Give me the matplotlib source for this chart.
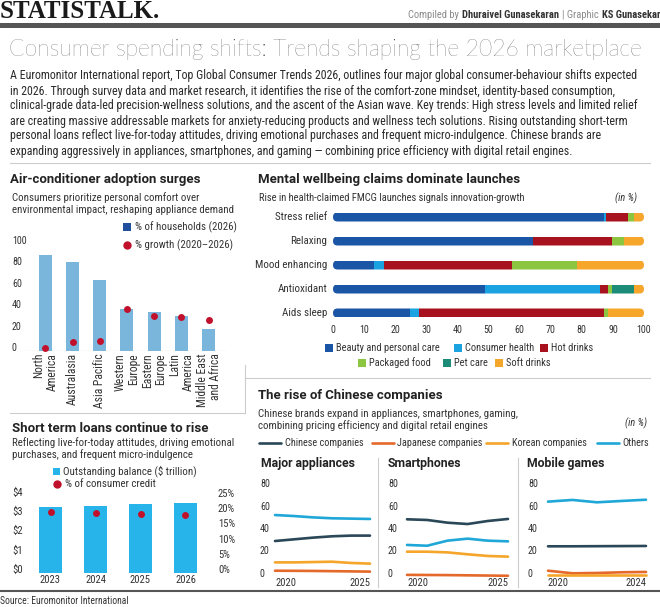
import matplotlib
matplotlib.use('Agg')
import matplotlib.pyplot as plt
import matplotlib.font_manager as fm
from matplotlib.patches import Rectangle, FancyBboxPatch
from matplotlib.lines import Line2D
from matplotlib.transforms import offset_copy
import numpy as np

W, H = 660, 607

# ------------------------------------------------------------------ data
ac_regions = ['North\nAmerica', 'Australasia', 'Asia Pacific', 'Western\nEurope',
              'Eastern\nEurope', 'Latin\nAmerica', 'Middle East\nand Africa']
ac_households = [90, 83, 66, 39, 36, 33, 21]
ac_growth = [3, 8, 9, 39, 33, 32, 29]
ac_ticks = [0, 20, 40, 60, 80, 100]

mw_claims = ['Stress relief', 'Relaxing', 'Mood enhancing', 'Antioxidant', 'Aids sleep']
mw_sectors = ['Beauty and personal care', 'Consumer health', 'Hot drinks',
              'Packaged food', 'Pet care', 'Soft drinks']
mw_beauty = [87.2, 64.2, 13.2, 48.9, 24.7]
mw_health = [0.5, 0.0, 3.1, 36.9, 2.9]
mw_hot = [7.0, 25.6, 41.4, 2.5, 59.5]
mw_food = [2.1, 3.8, 20.6, 1.3, 1.2]
mw_pet = [0.0, 0.0, 0.0, 7.3, 0.0]
mw_soft = [3.2, 6.4, 21.7, 3.1, 11.7]
mw_ticks = list(range(0, 101, 10))

loan_years = ['2023', '2024', '2025', '2026']
loan_balance = [3.42, 3.47, 3.56, 3.62]
loan_share = [20.0, 19.6, 19.5, 19.1]
loan_ticks_left = [0, 1, 2, 3, 4]
loan_ticks_right = [0, 5, 10, 15, 20, 25]

cn_series = ['Chinese companies', 'Japanese companies', 'Korean companies', 'Others']
appl_years = [2020, 2021, 2022, 2023, 2024, 2025]
appl_chinese = [31.1, 32.6, 34.1, 35.3, 35.9, 35.9]
appl_japanese = [4.7, 4.6, 4.5, 4.3, 4.1, 3.9]
appl_korean = [12.1, 12.1, 12.4, 12.7, 11.6, 11.0]
appl_others = [54.2, 53.3, 52.1, 51.3, 51.0, 50.7]
phone_years = [2020, 2021, 2022, 2023, 2024, 2025]
phone_chinese = [50.4, 49.8, 47.4, 46.2, 48.9, 50.7]
phone_japanese = [1.0, 0.9, 0.8, 0.6, 0.4, 0.2]
phone_korean = [21.6, 21.6, 21.0, 19.3, 17.8, 17.2]
phone_others = [27.6, 26.9, 31.4, 33.2, 31.4, 30.8]
game_years = [2020, 2021, 2022, 2023, 2024]
game_chinese = [26.4, 26.4, 26.5, 26.6, 26.7]
game_japanese = [4.7, 2.4, 2.7, 3.3, 3.6]
game_korean = [0.9, 0.9, 0.9, 0.9, 0.9]
game_others = [66.1, 67.6, 65.5, 66.7, 67.8]
cn_ticks = [0, 20, 40, 60, 80]

# ------------------------------------------------------------------ fonts
def pick(cands):
    for c in cands:
        try:
            fm.findfont(fm.FontProperties(family=c), fallback_to_default=False)
            return c
        except Exception:
            pass
    return 'DejaVu Sans'

NARROW = pick(['Liberation Sans Narrow', 'Roboto Condensed', 'Roboto'])
BOLD = pick(['Roboto', 'Liberation Sans'])
LIGHT = pick(['Lato', 'Open Sans', 'Roboto'])
SERIF = pick(['Liberation Serif', 'DejaVu Serif'])
K = 1.0 if NARROW != 'Roboto' else 0.86

# colours
C_TXT = '#222222'
C_SUB = '#333333'
C_AC = '#7ab6dc'
C_AC_LEG = '#1f4e9c'
C_RED = '#c0102b'
C_LOAN = '#27b4ea'
MW_COLORS = ['#1b55a6', '#1aa3e0', '#a8121e', '#8cc540', '#1c8b78', '#f6a62a']
CN_COLORS = ['#2a4858', '#e5692a', '#f5a52a', '#1fa7d8']

fig = plt.figure(figsize=(6.6, 6.07), dpi=100)
fig.patch.set_facecolor('white')


def fx(x):
    return x / W


def fy(y):
    return 1 - y / H


def T(x, y, s, size=8, **kw):
    kw.setdefault('ha', 'left')
    kw.setdefault('va', 'center')
    kw.setdefault('color', C_TXT)
    kw.setdefault('family', NARROW)
    if kw['family'] == NARROW:
        size = size * K
    return fig.text(fx(x), fy(y), s, fontsize=size, **kw)


def AX(x0, y0, x1, y1):
    ax = fig.add_axes([fx(x0), fy(y1), (x1 - x0) / W, (y1 - y0) / H])
    ax.patch.set_alpha(0)
    for sp in ax.spines.values():
        sp.set_visible(False)
    ax.set_xticks([])
    ax.set_yticks([])
    return ax


def HL(x0, x1, y, color='#cccccc', lw=0.8):
    fig.add_artist(Line2D([fx(x0), fx(x1)], [fy(y), fy(y)], color=color, lw=lw,
                          transform=fig.transFigure))


def VL(x, y0, y1, color='#cccccc', lw=0.8):
    fig.add_artist(Line2D([fx(x), fx(x)], [fy(y0), fy(y1)], color=color, lw=lw,
                          transform=fig.transFigure))


def SQ(x, y, color, s=8):
    fig.add_artist(Rectangle((fx(x), fy(y + s / 2)), s / W, s / H, color=color,
                             transform=fig.transFigure, lw=0))


def DOT(x, y, color, s=25):
    fig.add_artist(Line2D([fx(x)], [fy(y)], marker='o', ms=np.sqrt(s), color=color,
                          lw=0, transform=fig.transFigure))


TICK = 7.2 / K  # tick digits size (before K)
SUB = 7.8

# ------------------------------------------------------------------ header
T(0, 12, 'STATISTALK.', size=18, family=SERIF, weight='bold', color='#1a1a1a')
r = fig.canvas.get_renderer()
parts = [('Compiled by', 'normal', '#8a8a8a'), ('Dhuraivel Gunasekaran', 'bold', '#333333'),
         ('| Graphic', 'normal', '#8a8a8a'), ('KS Gunasekar', 'bold', '#333333')]
xr = 660
for s, w, c in reversed(parts):
    t = T(xr, 15, s, size=7.6, weight=w, color=c, ha='right')
    bb = t.get_window_extent(r)
    xr = bb.x0 - 3
fig.add_artist(Rectangle((0, fy(27.5)), 1, 4.5 / H, color='#555555', lw=0,
                         transform=fig.transFigure))

T(9, 50, 'Consumer spending shifts: Trends shaping the 2026 marketplace', size=16.5,
  family=LIGHT, weight='light', color='#3a3a3a')
para = [
    'A Euromonitor International report, Top Global Consumer Trends 2026, outlines four major global consumer-behaviour shifts expected',
    'in 2026. Through survey data and market research, it identifies the rise of the comfort-zone mindset, identity-based consumption,',
    'clinical-grade data-led precision-wellness solutions, and the ascent of the Asian wave. Key trends: High stress levels and limited relief',
    'are creating massive addressable markets for anxiety-reducing products and wellness tech solutions. Rising outstanding short-term',
    'personal loans reflect live-for-today attitudes, driving emotional purchases and frequent micro-indulgence. Chinese brands are',
    'expanding aggressively in appliances, smartphones, and gaming \u2014 combining price efficiency with digital retail engines.',
]
for i, line in enumerate(para):
    T(10, 76 + i * 15, line, size=8.6, color='#2a2a2a')

# separators
HL(10, 650, 163)
HL(245, 650, 378)
HL(10, 245, 413)
VL(245, 365, 413)
HL(0, 660, 591, color='#555555', lw=1.5)
T(0, 601, 'Source: Euromonitor International', size=6.9, color='#333333')

# ------------------------------------------------------------------ AC panel
T(10, 180, 'Air-conditioner adoption surges', size=9.5, family=BOLD, weight='bold')
T(12, 198, 'Consumers prioritize personal comfort over', size=SUB, color=C_SUB)
T(12, 210, 'environmental impact, reshaping appliance demand', size=SUB, color=C_SUB)
SQ(123, 227, C_AC_LEG)
T(135, 227, '% of households (2026)', size=SUB, color=C_SUB)
DOT(127, 245, C_RED)
T(135, 245, '% growth (2020\u20132026)', size=SUB, color=C_SUB)

ax = AX(25, 244, 227, 351)
xi = np.arange(len(ac_regions))
ax.bar(xi, ac_households, width=0.48, color=C_AC, lw=0)
ax.scatter(xi, ac_growth, s=25, color=C_RED, zorder=3, clip_on=False, lw=0)
ax.set_xlim(-0.75, 6.68)
ax.set_ylim(0, 100)
ax.axhline(0, color='#bbbbbb', lw=0.8)
tr = offset_copy(ax.get_yaxis_transform(), fig=fig, x=-13, y=3, units='dots')
for v in ac_ticks:
    ax.text(0, v, str(v), transform=tr, ha='left', va='center', fontsize=TICK * K,
            family=NARROW, color=C_SUB)
trx = offset_copy(ax.get_xaxis_transform(), fig=fig, x=0, y=-2, units='dots')
for i, lab in enumerate(ac_regions):
    ax.text(i, 0, lab, transform=trx, rotation=90, ha='center', va='top',
            multialignment='right', fontsize=8.4 * K, family=NARROW, color=C_SUB,
            linespacing=1.0)

# ------------------------------------------------------------------ Mental wellbeing
T(258, 180, 'Mental wellbeing claims dominate launches', size=9.5, family=BOLD, weight='bold')
T(259, 198, 'Rise in health-claimed FMCG launches signals innovation-growth', size=7.6, color=C_SUB)
T(637, 198, '(in %)', size=7.4, color=C_SUB, style='italic', ha='right')

ax = AX(333, 205, 644, 325)
rows = np.arange(len(mw_claims))
series = [mw_beauty, mw_health, mw_hot, mw_food, mw_pet, mw_soft]
left = np.zeros(len(rows))
conts = []
for vals, col in zip(series, MW_COLORS):
    c = ax.barh(rows, vals, left=left, height=0.375, color=col, lw=0)
    conts.append(c)
    left = left + np.array(vals)
pills = []
for i in rows:
    p = FancyBboxPatch((0, i - 0.1875), left[i], 0.375,
                       boxstyle='round,pad=0,rounding_size=1.45', mutation_aspect=0.129,
                       facecolor='none', edgecolor='none')
    ax.add_patch(p)
    pills.append(p)
for c in conts:
    for i, rect in enumerate(c.patches):
        rect.set_clip_path(pills[i])
ax.set_xlim(0, 100)
ax.set_ylim(4.5, -0.5)
tr = offset_copy(ax.get_yaxis_transform(), fig=fig, x=-6, y=0, units='dots')
for i, lab in enumerate(mw_claims):
    ax.text(0, i, lab, transform=tr, ha='right', va='center', fontsize=7.9 * K,
            family=NARROW, color=C_SUB)
trx = offset_copy(ax.get_xaxis_transform(), fig=fig, x=0, y=-5, units='dots')
for v in mw_ticks:
    ax.text(v, 0, str(v), transform=trx, ha='center', va='center', fontsize=TICK * K,
            family=NARROW, color=C_SUB)
leg_pos = [(325, 348), (454, 348), (540, 348), (358, 363), (443, 363), (495, 363)]
for (lx, ly), lab, col in zip(leg_pos, mw_sectors, MW_COLORS):
    SQ(lx, ly, col)
    T(lx + 11, ly, lab, size=7.5, color=C_SUB)

# ------------------------------------------------------------------ Loans
T(12, 429, 'Short term loans continue to rise', size=9.5, family=BOLD, weight='bold')
T(12, 443, 'Reflecting live-for-today attitudes, driving emotional', size=SUB, color=C_SUB)
T(12, 455, 'purchases, and frequent micro-indulgence', size=SUB, color=C_SUB)
SQ(53, 471, C_LOAN, s=7)
T(63, 471, 'Outstanding balance ($ trillion)', size=SUB, color=C_SUB)
DOT(57, 484, C_RED)
T(65, 484, '% of consumer credit', size=SUB, color=C_SUB)

ax = AX(28, 495.4, 208, 573)
xi = np.arange(len(loan_years))
ax.bar(xi, loan_balance, width=0.49, color=C_LOAN, lw=0)
ax.set_xlim(-0.5, 3.5)
ax.set_ylim(0, 4)
tr = offset_copy(ax.get_yaxis_transform(), fig=fig, x=-16, y=3, units='dots')
for v in loan_ticks_left:
    ax.text(0, v, '$%d' % v, transform=tr, ha='left', va='center', fontsize=TICK * K * 1.06,
            family=NARROW, color=C_SUB)
trx = offset_copy(ax.get_xaxis_transform(), fig=fig, x=0, y=-7, units='dots')
for i, lab in enumerate(loan_years):
    ax.text(i, 0, lab, transform=trx, ha='center', va='center', fontsize=TICK * K * 1.06,
            family=NARROW, color=C_SUB)
ax2 = ax.twinx()
for sp in ax2.spines.values():
    sp.set_visible(False)
ax2.set_yticks([])
ax2.set_ylim(0, 25 * 77.6 / 76)
ax2.scatter(xi, loan_share, s=25, color=C_RED, zorder=3, lw=0)
tr = offset_copy(ax2.get_yaxis_transform(), fig=fig, x=10, y=3, units='dots')
for v in loan_ticks_right:
    ax2.text(1, v, '%d%%' % v, transform=tr, ha='left', va='center', fontsize=TICK * K * 1.06,
             family=NARROW, color=C_SUB)

# ------------------------------------------------------------------ Chinese companies
T(258, 396, 'The rise of Chinese companies', size=9.5, family=BOLD, weight='bold')
T(258, 414, 'Chinese brands expand in appliances, smartphones, gaming,', size=SUB, color=C_SUB)
T(258, 426, 'combining pricing efficiency and digital retail engines', size=SUB, color=C_SUB)
T(647, 423, '(in %)', size=7.4, color=C_SUB, style='italic', ha='right')
leg = [(259, 285), (372, 397), (486, 512), (597, 622)]
for (lx, tx), lab, col in zip(leg, cn_series, CN_COLORS):
    fig.add_artist(Line2D([fx(lx), fx(lx + 22)], [fy(443), fy(443)], color=col, lw=1.9,
                          solid_capstyle='round', transform=fig.transFigure))
    T(tx, 443, lab, size=7.4, color=C_SUB)

VL(378, 458, 587)
VL(518, 458, 587)

panels = [
    ('Major appliances', 261, 260, 275, 370, appl_years,
     [appl_chinese, appl_japanese, appl_korean, appl_others]),
    ('Smartphones', 388, 388, 407, 508, phone_years,
     [phone_chinese, phone_japanese, phone_korean, phone_others]),
    ('Mobile games', 527, 528, 548, 646, game_years,
     [game_chinese, game_japanese, game_korean, game_others]),
]
for title, tx, lx, x0, x1, yrs, data in panels:
    T(tx, 463, title, size=8.8, family=BOLD, weight='bold')
    ax = AX(x0, 486, x1, 576)
    order = [1, 2, 0, 3]
    for k in order:
        ax.plot(yrs, data[k], color=CN_COLORS[k], lw=1.9, solid_capstyle='round',
                clip_on=False)
    ax.set_xlim(yrs[0], yrs[-1])
    ax.set_ylim(0, 80)
    tr = offset_copy(ax.get_yaxis_transform(), fig=fig, x=lx - x0, y=2, units='dots')
    for v in cn_ticks:
        ax.text(0, v, str(v), transform=tr, ha='left', va='center', fontsize=TICK * K,
                family=NARROW, color=C_SUB)
    trx = offset_copy(ax.get_xaxis_transform(), fig=fig, x=0, y=-7, units='dots')
    ax.text(yrs[0], 0, str(yrs[0]), transform=trx, ha='left', va='center',
            fontsize=TICK * K * 1.05, family=NARROW, color=C_SUB)
    ax.text(yrs[-1], 0, str(yrs[-1]), transform=trx, ha='right', va='center',
            fontsize=TICK * K * 1.05, family=NARROW, color=C_SUB)

fig.savefig('out.png', dpi=100)
